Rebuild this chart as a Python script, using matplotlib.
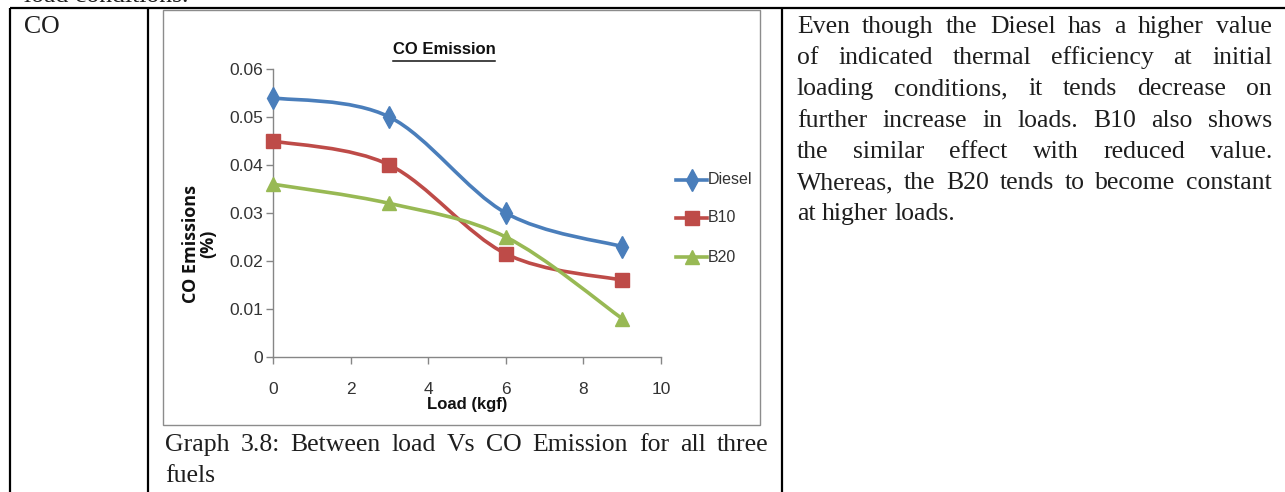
import matplotlib
matplotlib.use('Agg')
import matplotlib.pyplot as plt
from matplotlib.path import Path
from matplotlib.patches import PathPatch, Rectangle
from matplotlib.lines import Line2D
import numpy as np

# ---------------- data ----------------
loads = [0, 3, 6, 9]
diesel = [0.054, 0.050, 0.030, 0.023]
b10 = [0.045, 0.040, 0.0215, 0.016]
b20 = [0.036, 0.032, 0.025, 0.008]
series_names = ['Diesel', 'B10', 'B20']
x_ticks = [0, 2, 4, 6, 8, 10]
y_ticks = [0, 0.01, 0.02, 0.03, 0.04, 0.05, 0.06]
y_tick_labels = ['0', '0.01', '0.02', '0.03', '0.04', '0.05', '0.06']
chart_title = 'CO Emission'
x_label = 'Load (kgf)'
y_label = 'CO Emissions\n(%)'
row_label = 'CO'
top_text = 'load conditions.'
caption_lines = ['Graph 3.8: Between load Vs CO Emission for all three', 'fuels']
body_lines = [
    'Even though the Diesel has a higher value',
    'of indicated thermal efficiency at initial',
    'loading conditions, it tends decrease on',
    'further increase in loads. B10 also shows',
    'the similar effect with reduced value.',
    'Whereas, the B20 tends to become constant',
    'at higher loads.',
]

colors = ['#4A7EBB', '#BE4B48', '#98B954']
markers = ['d', 's', '^']
msizes = [11, 9.5, 10]

W, H = 1285, 492
fig = plt.figure(figsize=(W / 100, H / 100), dpi=100)
fig.patch.set_facecolor('white')


def fx(x):
    return x / W


def fy(y):
    return 1 - y / H


NARROW = ['Liberation Sans', 'DejaVu Sans']
SERIF = ['Liberation Serif', 'DejaVu Serif']
TXT = '#1e1e1e'

# ---------------- table lines ----------------
tl = dict(color='black', lw=1.6, transform=fig.transFigure, solid_capstyle='butt')
fig.add_artist(Line2D([fx(10), fx(1285)], [fy(8), fy(8)], **tl))
for xv in [10, 148, 782]:
    fig.add_artist(Line2D([fx(xv), fx(xv)], [fy(8), fy(492)], **tl))

# chart frame
fig.add_artist(Rectangle((fx(163), fy(425)), fx(760) - fx(163), fy(10) - fy(425),
                         fill=False, edgecolor='#8c8c8c', lw=1.0, transform=fig.transFigure))

# ---------------- axes ----------------
ax = fig.add_axes([fx(273), fy(357), fx(661) - fx(273), fy(69) - fy(357)])
ax.set_xlim(0, 10)
ax.set_ylim(0, 0.06)
ax.set_facecolor('none')
for s in ['top', 'right']:
    ax.spines[s].set_visible(False)
for s in ['left', 'bottom']:
    ax.spines[s].set_color('#868686')
    ax.spines[s].set_linewidth(1.0)
ax.set_xticks(x_ticks)
ax.set_xticklabels([str(t) for t in x_ticks])
ax.set_yticks(y_ticks)
ax.set_yticklabels(y_tick_labels)
ax.tick_params(axis='both', direction='out', length=5, width=1, color='#868686',
               labelcolor='#333333', labelsize=12.5)
ax.tick_params(axis='x', pad=13)
ax.tick_params(axis='y', pad=2)
for lab in ax.get_xticklabels() + ax.get_yticklabels():
    lab.set_family(NARROW)


def smooth_path(xs, ys):
    pts = np.column_stack([xs, ys]).astype(float)
    n = len(pts)
    verts = [pts[0]]
    codes = [Path.MOVETO]
    for i in range(n - 1):
        p0 = pts[i - 1] if i > 0 else pts[i]
        p1 = pts[i]
        p2 = pts[i + 1]
        p3 = pts[i + 2] if i + 2 < n else pts[i + 1]
        c1 = p1 + (p2 - p0) / 6.0
        c2 = p2 - (p3 - p1) / 6.0
        verts += [c1, c2, p2]
        codes += [Path.CURVE4] * 3
    return Path(verts, codes)


for vals, c, m, ms in zip([diesel, b10, b20], colors, markers, msizes):
    ax.add_patch(PathPatch(smooth_path(loads, vals), fill=False, edgecolor=c, lw=2.6,
                           capstyle='round', joinstyle='round', zorder=2))
    ax.plot(loads, vals, linestyle='none', marker=m, markersize=ms, color=c,
            markeredgecolor=c, zorder=3, clip_on=False)

# title with underline
t = fig.text(fx(444), fy(50), chart_title, ha='center', va='center', fontsize=12,
             fontweight='bold', family=NARROW, color='#111111')
fig.text(fx(200), fy(244), y_label, ha='center', va='center', rotation=90, fontsize=13,
         fontweight='bold', family=['Open Sans', 'DejaVu Sans'], color='#111111',
         linespacing=0.95)
fig.text(fx(467), fy(404), x_label, ha='center', va='center', fontsize=12,
         fontweight='bold', family=NARROW, color='#111111')

# legend (manual)
leg_y = [180, 218, 257]
for name, c, m, ms, yy in zip(series_names, colors, markers, msizes, leg_y):
    fig.add_artist(Line2D([fx(676), fx(707)], [fy(yy), fy(yy)], color=c, lw=2.6,
                          transform=fig.transFigure))
    fig.add_artist(Line2D([fx(691.5)], [fy(yy)], color=c, marker=m, markersize=ms,
                          linestyle='none', transform=fig.transFigure))
    fig.text(fx(708), fy(yy), name, ha='left', va='center', fontsize=11.5,
             family=NARROW, color='#333333')

# ---------------- document text ----------------
SZ = 18.5
fig.text(fx(24), fy(33), row_label, ha='left', va='baseline', fontsize=SZ,
         family=SERIF, color=TXT)
fig.text(fx(24), fy(2), top_text, ha='left', va='baseline', fontsize=SZ,
         family=SERIF, color=TXT)

fig.canvas.draw()
renderer = fig.canvas.get_renderer()

# underline for title
bb = t.get_window_extent(renderer)
fig.add_artist(Line2D([fx(bb.x0), fx(bb.x1)], [fy(60.5), fy(60.5)], color='#111111', lw=1.1,
                      transform=fig.transFigure))


def place_line(text, x0, x1, ybase, size, justify=True):
    words = text.split()
    arts = [fig.text(0, fy(ybase), w, fontsize=size, family=SERIF, va='baseline',
                     ha='left', color=TXT) for w in words]
    widths = [a.get_window_extent(renderer).width for a in arts]
    if justify and len(words) > 1:
        gap = (x1 - x0 - sum(widths)) / (len(words) - 1)
    else:
        gap = 0.25 * size * 100 / 72
    x = x0
    for a, w in zip(arts, widths):
        a.set_x(fx(x))
        x += w + gap


for i, line in enumerate(body_lines):
    place_line(line, 797, 1272, 33 + 31.2 * i, SZ, justify=(i < len(body_lines) - 1))

place_line(caption_lines[0], 165, 768, 451, SZ, justify=True)
place_line(caption_lines[1], 165, 768, 482, SZ, justify=False)

fig.savefig('out.png', dpi=100, facecolor='white')
